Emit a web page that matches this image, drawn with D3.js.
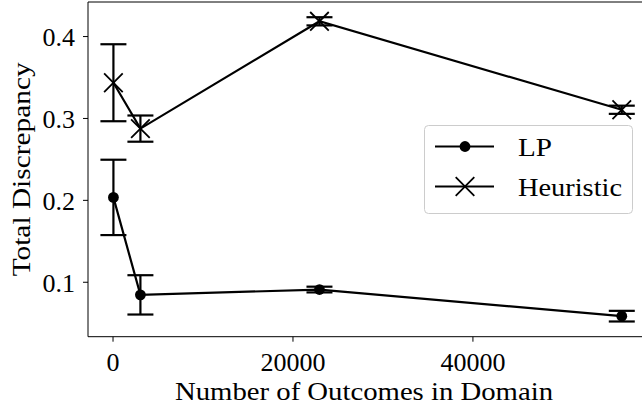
<!DOCTYPE html>
<html><head><meta charset="utf-8">
<script src="https://cdn.jsdelivr.net/npm/d3@7"></script>
<style>body{margin:0;background:#fff}svg{display:block}svg text{font-family:"Liberation Serif","Times New Roman",serif !important;fill:#000}</style>
</head><body>
<svg id="c" width="642" height="408" font-family="Liberation Serif"></svg>
<script>
const outcomes = [100, 3100, 23000, 56600];
const lpMean = [0.203, 0.084, 0.0905, 0.058];
const lpErr = [0.046, 0.024, 0.0035, 0.0065];
const heurMean = [0.343, 0.287, 0.418, 0.310];
const heurErr = [0.047, 0.016, 0.005, 0.005];
const xTicks = [0, 20000, 40000];
const yTicks = [0.1, 0.2, 0.3, 0.4];
const seriesNames = ["LP", "Heuristic"];

const SERIF = '"Liberation Serif", "Times New Roman", serif';
const svg = d3.select("#c");
const L = 88, T = 2, B = 336.7, R = 647.2;

const xmin = d3.min(outcomes), xmax = d3.max(outcomes);
const xpad = (xmax - xmin) * 0.05;
const x = d3.scaleLinear().domain([xmin - xpad, xmax + xpad]).range([L, R]);
const allLo = lpMean.map((v,i)=>v-lpErr[i]).concat(heurMean.map((v,i)=>v-heurErr[i]));
const allHi = lpMean.map((v,i)=>v+lpErr[i]).concat(heurMean.map((v,i)=>v+heurErr[i]));
const ylo = d3.min(allLo), yhi = d3.max(allHi), ypad = (yhi - ylo) * 0.05;
const y = d3.scaleLinear().domain([ylo - ypad, yhi + ypad]).range([B, T]);

const FS = 26;
// axes
const xAxis = d3.axisBottom(x).tickValues(xTicks).tickSize(5).tickPadding(9).tickFormat(d3.format("d"));
const gx = svg.append("g").attr("transform", `translate(0,${B})`).call(xAxis);
gx.attr("font-family", null).attr("font-size", null);
gx.select(".domain").remove();
gx.selectAll("text").style("font-family", SERIF).style("font-size", FS + "px").attr("dy", "0.8em");
const yAxis = d3.axisLeft(y).tickValues(yTicks).tickSize(5).tickPadding(8).tickFormat(d3.format(".1f"));
const gy = svg.append("g").attr("transform", `translate(${L},0)`).call(yAxis);
gy.attr("font-family", null).attr("font-size", null);
gy.select(".domain").remove();
gy.selectAll("text").style("font-family", SERIF).style("font-size", FS + "px").attr("dy", "0.38em");
svg.selectAll(".tick line").attr("stroke", "#000").attr("stroke-width", 1);

// plot
const plot = svg.append("g");
function drawSeries(means, errs, marker) {
  const pts = outcomes.map((o,i)=>({x:o, y:means[i], e:errs[i]}));
  plot.append("path").datum(pts)
    .attr("d", d3.line().x(d=>x(d.x)).y(d=>y(d.y)))
    .attr("fill","none").attr("stroke","#000").attr("stroke-width",2.2);
  const eb = plot.append("g").attr("stroke","#000").attr("stroke-width",2.2);
  pts.forEach(d=>{
    const cx = x(d.x);
    eb.append("line").attr("x1",cx).attr("x2",cx).attr("y1",y(d.y-d.e)).attr("y2",y(d.y+d.e));
    [d.y-d.e, d.y+d.e].forEach(v=>{
      eb.append("line").attr("x1",cx-13).attr("x2",cx+13).attr("y1",y(v)).attr("y2",y(v));
    });
  });
  pts.forEach(d=>drawMarker(plot, x(d.x), y(d.y), marker));
}
function drawMarker(g, cx, cy, marker) {
  if (marker === "o") {
    g.append("circle").attr("cx",cx).attr("cy",cy).attr("r",5.4).attr("fill","#000");
  } else {
    const s = 9.3;
    g.append("path").attr("d",`M${cx-s},${cy-s}L${cx+s},${cy+s}M${cx-s},${cy+s}L${cx+s},${cy-s}`)
      .attr("stroke","#000").attr("stroke-width",1.8).attr("fill","none");
  }
}
drawSeries(lpMean, lpErr, "o");
drawSeries(heurMean, heurErr, "x");

// spines
svg.append("line").attr("x1",L).attr("x2",L).attr("y1",T).attr("y2",B).attr("stroke","#000").attr("stroke-width",1);
svg.append("line").attr("x1",L).attr("x2",R).attr("y1",T).attr("y2",T).attr("stroke","#000").attr("stroke-width",1);
svg.append("line").attr("x1",L).attr("x2",R).attr("y1",B).attr("y2",B).attr("stroke","#000").attr("stroke-width",1);

// legend
const lg = svg.append("g");
lg.append("rect").attr("x",424.5).attr("y",125.5).attr("width",208).attr("height",88).attr("rx",4)
  .attr("fill","#fff").attr("fill-opacity",0.8).attr("stroke","#ccc").attr("stroke-width",1);
const markers = ["o","x"];
const textW = [34, 104];
seriesNames.forEach((n,i)=>{
  const ly = 146.5 + i*40;
  lg.append("line").attr("x1",435).attr("x2",494).attr("y1",ly).attr("y2",ly).attr("stroke","#000").attr("stroke-width",2.2);
  drawMarker(lg, 465, ly, markers[i]);
  lg.append("text").attr("x",518).attr("y",ly+9.5).style("font-family", SERIF).style("font-size",FS+"px")
    .attr("textLength",textW[i]).attr("lengthAdjust","spacingAndGlyphs").text(n);
});

// axis labels
svg.append("text").attr("x",(L+640)/2).attr("y",400).attr("text-anchor","middle").style("font-family", SERIF).style("font-size",FS+"px")
  .attr("textLength",378).attr("lengthAdjust","spacingAndGlyphs").text("Number of Outcomes in Domain");
svg.append("text").attr("transform",`translate(30,${(T+B)/2}) rotate(-90)`).attr("text-anchor","middle").style("font-family", SERIF).style("font-size",FS+"px")
  .attr("textLength",214).attr("lengthAdjust","spacingAndGlyphs").text("Total Discrepancy");
</script>
</body></html>
